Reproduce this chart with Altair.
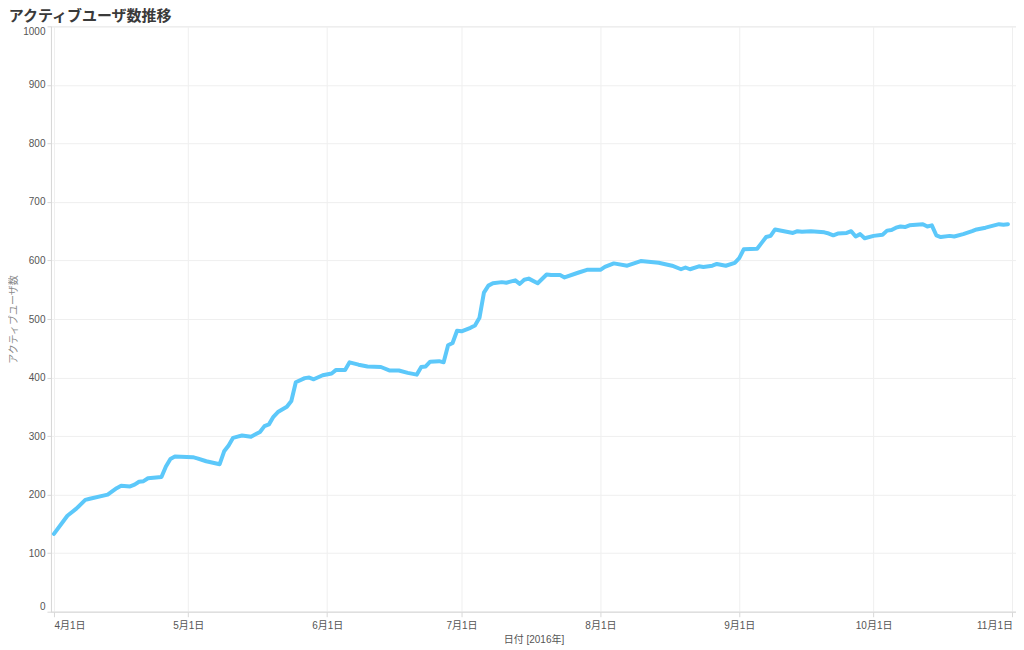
import altair as alt
import pandas as pd

dates = [
    "2016-04-01", "2016-04-04", "2016-04-06", "2016-04-08", "2016-04-09", "2016-04-13",
    "2016-04-15", "2016-04-16", "2016-04-18", "2016-04-19", "2016-04-20", "2016-04-21",
    "2016-04-22", "2016-04-25", "2016-04-26", "2016-04-27", "2016-04-28", "2016-05-02",
    "2016-05-03", "2016-05-05", "2016-05-08", "2016-05-09", "2016-05-10", "2016-05-11",
    "2016-05-12", "2016-05-13", "2016-05-15", "2016-05-17", "2016-05-18", "2016-05-19",
    "2016-05-20", "2016-05-21", "2016-05-23", "2016-05-24", "2016-05-25", "2016-05-27",
    "2016-05-28", "2016-05-29", "2016-05-31", "2016-06-02", "2016-06-03", "2016-06-05",
    "2016-06-06", "2016-06-08", "2016-06-10", "2016-06-13", "2016-06-15", "2016-06-17",
    "2016-06-19", "2016-06-21", "2016-06-22", "2016-06-23", "2016-06-24", "2016-06-26",
    "2016-06-27", "2016-06-28", "2016-06-29", "2016-06-30", "2016-07-01", "2016-07-03",
    "2016-07-04", "2016-07-05", "2016-07-06", "2016-07-07", "2016-07-08", "2016-07-10",
    "2016-07-11", "2016-07-13", "2016-07-14", "2016-07-15", "2016-07-16", "2016-07-18",
    "2016-07-20", "2016-07-21", "2016-07-23", "2016-07-24", "2016-07-27", "2016-07-29",
    "2016-07-30", "2016-08-01", "2016-08-02", "2016-08-04", "2016-08-07", "2016-08-10",
    "2016-08-14", "2016-08-17", "2016-08-19", "2016-08-20", "2016-08-21", "2016-08-23",
    "2016-08-24", "2016-08-26", "2016-08-27", "2016-08-29", "2016-08-31", "2016-09-01",
    "2016-09-02", "2016-09-05", "2016-09-06", "2016-09-07", "2016-09-08", "2016-09-09",
    "2016-09-13", "2016-09-14", "2016-09-15", "2016-09-17", "2016-09-20", "2016-09-21",
    "2016-09-22", "2016-09-23", "2016-09-25", "2016-09-26", "2016-09-27", "2016-09-28",
    "2016-09-29", "2016-10-01", "2016-10-03", "2016-10-04", "2016-10-05", "2016-10-06",
    "2016-10-07", "2016-10-08", "2016-10-09", "2016-10-12", "2016-10-13", "2016-10-14",
    "2016-10-15", "2016-10-16", "2016-10-18", "2016-10-19", "2016-10-21", "2016-10-23",
    "2016-10-24", "2016-10-26", "2016-10-29", "2016-10-30", "2016-10-31",
]

active_users = [
    133, 164, 176, 191, 193, 200,
    211, 215, 214, 217, 222, 223,
    228, 230, 248, 261, 265, 264,
    262, 257, 252, 274, 284, 297,
    299, 301, 299, 307, 317, 320,
    333, 341, 350, 360, 392, 399,
    400, 397, 404, 407, 413, 413,
    426, 422, 419, 418, 412, 412,
    408, 405, 418, 419, 427, 428,
    426, 455, 459, 480, 479, 485,
    489, 502, 545, 557, 561, 563,
    562, 566, 560, 567, 569, 561,
    576, 575, 575, 571, 579, 584,
    584, 584, 589, 595, 591, 599,
    596, 591, 585, 588, 585, 590,
    589, 591, 594, 591, 596, 604,
    619, 620, 630, 640, 642, 653,
    647, 650, 649, 650, 648, 646,
    643, 646, 647, 650, 641, 645,
    638, 642, 644, 651, 652, 656,
    658, 657, 660, 662, 658, 660,
    643, 640, 642, 641, 645, 650,
    653, 656, 662, 661, 662,
]

y_ticks = [0, 100, 200, 300, 400, 500, 600, 700, 800, 900, 1000]

df = pd.DataFrame({"date": pd.to_datetime(dates), "users": active_users})

FONT = "Liberation Sans, Noto Sans CJK JP, sans-serif"

chart = (
    alt.Chart(df)
    .mark_line(color="#5cc8fa", strokeWidth=4, strokeJoin="round", strokeCap="round")
    .encode(
        x=alt.X(
            "date:T",
            title="日付 [2016年]",
            scale=alt.Scale(
                domain=[
                    alt.DateTime(year=2016, month=3, date=31, hours=8),
                    alt.DateTime(year=2016, month=11, date=1, hours=19),
                ]
            ),
            axis=alt.Axis(
                format="%-m月%-d日",
                tickCount={"interval": "month", "step": 1},
                labelFlush=12,
                labelPadding=4,
                tickSize=5,
                titlePadding=4,
            ),
        ),
        y=alt.Y(
            "users:Q",
            title="アクティブユーザ数",
            scale=alt.Scale(domain=[0, 1000], nice=False),
            axis=alt.Axis(
                values=y_ticks,
                format="d",
                labelFlush=True,
                tickSize=4,
                labelPadding=2,
                titlePadding=4,
                titleColor="#8a8a8a",
            ),
        ),
    )
    .properties(
        width=966,
        height=586,
        padding={"left": 0, "top": 0, "right": 0, "bottom": 0},
        title=alt.TitleParams(
            "アクティブユーザ数推移",
            anchor="start",
            fontSize=15,
            fontWeight="bold",
            color="#3a3a3a",
            font=FONT,
            offset=2,
        ),
    )
    .configure_view(stroke="#e4e4e4", strokeWidth=1)
    .configure_axis(
        labelFont=FONT,
        titleFont=FONT,
        labelFontSize=10,
        titleFontSize=10,
        titleFontWeight="normal",
        labelColor="#555555",
        titleColor="#555555",
        gridColor="#efefef",
        domainColor="#d8d8d8",
        tickColor="#d8d8d8",
    )
)

chart.save("out.html", embed_options={"renderer": "svg", "actions": False})
